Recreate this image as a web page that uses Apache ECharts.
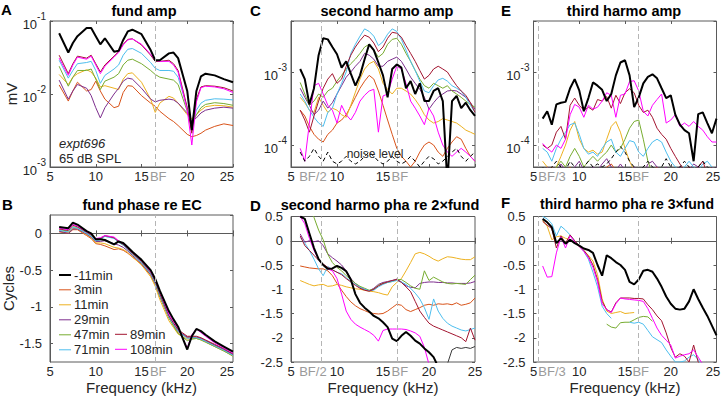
<!DOCTYPE html>
<html>
<head>
  <meta http-equiv="Content-Type" content="text/html; charset=utf-8"/>
  <title>expt696 harmonics</title>
  <script src="https://cdnjs.cloudflare.com/ajax/libs/echarts/6.0.0/echarts.min.js"></script>
</head>
<body style="margin:0;background:#fff">
<div id="main" style="width:724px;height:402px;"></div>
<script type="text/javascript">
// legend order: -11min is the reference, then the times after exposure
var timeNames = ['-11min','3min','11min','29min','47min','71min','89min','108min'];
var timeColors = ['#000000','#D95319','#EDB120','#7E2F8E','#77AC30','#4DBEEE','#A2142F','#FF00FF'];

// frequencies (kHz)
var freqFund = [6,7,7.5,8,9,9.5,10,10.5,11,12,12.5,13,13.5,14,15,16,16.5,17,18,18.5,19,20,20.5,21,21.5,22,23,24,25];
var freqHarm = [6,6.5,7,7.5,8,8.5,9,9.5,10,10.5,11,11.5,12,12.5,13,13.5,14,14.5,15,15.5,16,16.5,17,17.5,18,18.5,19,19.5,20,20.5,21,21.5,22,22.5,23,23.5,24,24.5,25];
var bestFreq = 16.5;

// A: fund amp (mV)
var fundAmp_m11 = [0.068,0.037,0.050,0.062,0.080,0.080,0.062,0.048,0.058,0.038,0.039,0.055,0.072,0.076,0.066,0.040,0.029,0.029,0.036,0.037,0.031,0.011,0.0032,0.011,0.0175,0.019,0.018,0.016,0.0145];
var fundAmp_t3 = [0.0133,0.008,0.011,0.0145,0.011,0.0115,0.015,0.011,0.0085,0.0065,0.0068,0.0105,0.013,0.0128,0.0095,0.0075,0.0068,0.0058,0.0046,0.0042,0.0037,0.0028,0.0026,0.0027,0.0029,0.0032,0.0036,0.0039,0.0037];
var fundAmp_t11 = [0.0185,0.0135,0.017,0.019,0.0215,0.020,0.0165,0.0125,0.013,0.012,0.0115,0.016,0.019,0.0195,0.0145,0.0085,0.0056,0.0075,0.0093,0.0088,0.0075,0.0052,0.0046,0.0052,0.006,0.0067,0.0070,0.0069,0.0066];
var fundAmp_t29 = [0.0155,0.0085,0.011,0.0135,0.012,0.0095,0.0065,0.0047,0.0065,0.010,0.012,0.015,0.0165,0.016,0.012,0.0085,0.0078,0.0082,0.0085,0.0083,0.0075,0.0055,0.0042,0.0047,0.0055,0.006,0.0064,0.0066,0.0064];
var fundAmp_t47 = [0.024,0.0128,0.017,0.021,0.021,0.022,0.016,0.0115,0.015,0.017,0.019,0.025,0.029,0.030,0.026,0.021,0.0185,0.017,0.016,0.0155,0.0135,0.0058,0.0038,0.0052,0.0065,0.0072,0.0076,0.0074,0.0070];
var fundAmp_t71 = [0.029,0.0165,0.021,0.026,0.027,0.028,0.021,0.014,0.018,0.022,0.025,0.034,0.041,0.042,0.036,0.027,0.0225,0.021,0.021,0.0205,0.017,0.0065,0.0036,0.006,0.0075,0.0082,0.0086,0.0085,0.0083];
var fundAmp_t89 = [0.034,0.019,0.026,0.033,0.031,0.034,0.026,0.020,0.025,0.033,0.038,0.048,0.056,0.057,0.047,0.034,0.028,0.028,0.029,0.026,0.021,0.0065,0.0029,0.0085,0.0125,0.013,0.0128,0.0122,0.011];
var fundAmp_t108 = [0.031,0.018,0.025,0.032,0.030,0.033,0.025,0.019,0.024,0.032,0.037,0.047,0.055,0.057,0.048,0.035,0.029,0.028,0.028,0.025,0.020,0.006,0.0020,0.0078,0.0122,0.0128,0.0125,0.0118,0.0105];

// B: fund phase re EC (cycles)
var fundPha_m11 = [0.086,0.07,0.145,0.12,0.03,0.0,-0.08,-0.08,-0.09,-0.15,-0.11,-0.13,-0.19,-0.25,-0.36,-0.50,-0.62,-0.78,-1.06,-1.17,-1.27,-1.58,-1.40,-1.30,-1.33,-1.38,-1.47,-1.54,-1.61];
var fundPha_t3 = [0.02,0.0,0.05,0.05,-0.03,-0.07,-0.14,-0.15,-0.17,-0.22,-0.21,-0.23,-0.27,-0.32,-0.42,-0.57,-0.69,-0.86,-1.15,-1.25,-1.34,-1.42,-1.42,-1.42,-1.44,-1.47,-1.53,-1.59,-1.66];
var fundPha_t11 = [0.03,0.01,0.07,0.06,-0.02,-0.06,-0.13,-0.13,-0.14,-0.19,-0.20,-0.22,-0.26,-0.32,-0.43,-0.59,-0.72,-0.90,-1.19,-1.28,-1.37,-1.44,-1.43,-1.43,-1.45,-1.48,-1.54,-1.60,-1.67];
var fundPha_t29 = [0.03,0.0,0.06,0.06,-0.01,-0.05,-0.11,-0.11,-0.10,-0.14,-0.16,-0.19,-0.24,-0.30,-0.41,-0.56,-0.68,-0.85,-1.14,-1.24,-1.33,-1.41,-1.41,-1.41,-1.43,-1.46,-1.52,-1.58,-1.65];
var fundPha_t47 = [0.05,0.03,0.09,0.08,0.01,-0.03,-0.09,-0.08,-0.04,-0.06,-0.12,-0.16,-0.22,-0.28,-0.39,-0.55,-0.67,-0.85,-1.15,-1.26,-1.36,-1.46,-1.44,-1.43,-1.45,-1.48,-1.54,-1.60,-1.67];
var fundPha_t71 = [0.04,0.02,0.08,0.07,0.0,-0.04,-0.10,-0.09,-0.04,-0.07,-0.12,-0.16,-0.22,-0.28,-0.40,-0.55,-0.67,-0.84,-1.14,-1.24,-1.33,-1.43,-1.42,-1.42,-1.44,-1.47,-1.53,-1.59,-1.66];
var fundPha_t89 = [0.06,0.04,0.11,0.09,0.02,-0.02,-0.08,-0.07,-0.03,-0.06,-0.11,-0.15,-0.21,-0.27,-0.38,-0.53,-0.65,-0.82,-1.12,-1.22,-1.31,-1.40,-1.40,-1.40,-1.42,-1.45,-1.51,-1.57,-1.64];
var fundPha_t108 = [0.07,0.05,0.12,0.10,0.02,-0.01,-0.07,-0.06,-0.03,-0.05,-0.10,-0.14,-0.20,-0.26,-0.37,-0.52,-0.63,-0.79,-1.10,-1.20,-1.29,-1.56,-1.38,-1.30,-1.35,-1.40,-1.49,-1.56,-1.63];

// C: second harmonic amp (mV)
var h2Amp_m11 = [1.1e-3,8e-4,3.6e-4,6e-4,1.7e-3,2.9e-3,2.8e-3,2.2e-3,1.75e-3,1.15e-3,1.4e-3,9.5e-4,6.5e-4,9e-4,1.5e-3,2.4e-3,2.0e-3,1.35e-3,9e-4,4.5e-4,1.1e-3,1.27e-3,1.15e-3,6e-4,7.5e-4,5e-4,7e-4,4e-4,4e-4,5.5e-4,6e-4,4e-4,3e-5,4e-4,4.7e-4,3.2e-4,3.8e-4,3e-4,2.5e-4];
var h2Amp_t3 = [3e-4,2.5e-4,1.8e-4,1.4e-4,1.2e-4,1.1e-4,1.4e-4,1.6e-4,2e-4,2.2e-4,2.6e-4,3.4e-4,4.5e-4,6e-4,7.5e-4,9e-4,8e-4,5.5e-4,3.5e-4,2.2e-4,1.4e-4,9e-5,7e-5,6e-5,5e-5,6e-5,8e-5,1e-4,1.1e-4,1e-4,8e-5,7e-5,9e-5,1.1e-4,1.3e-4,1.2e-4,9e-5,7e-5,6e-5];
var h2Amp_t11 = [4.5e-4,3.8e-4,3e-4,2.8e-4,4.5e-4,3.5e-4,2.8e-4,3.2e-4,3e-4,2.6e-4,2.4e-4,3.5e-4,5.3e-4,8e-4,1.1e-3,1.3e-3,1.4e-3,1.1e-3,7e-4,5.8e-4,5e-4,6e-4,6e-4,5.5e-4,5e-4,4.2e-4,3.4e-4,2.6e-4,2.2e-4,2e-4,2.1e-4,2.3e-4,2.2e-4,2.1e-4,2e-4,1.8e-4,1.6e-4,1.5e-4,1.4e-4];
var h2Amp_t29 = [6e-4,4.5e-4,3.5e-4,2.6e-4,3e-4,4e-4,3.2e-4,3.8e-4,5e-4,6.5e-4,8.5e-4,1e-3,1.2e-3,1.4e-3,1.8e-3,1.7e-3,1.5e-3,1.2e-3,1.2e-3,1.4e-3,1.5e-3,1.6e-3,1.4e-3,1.1e-3,8.5e-4,7e-4,5.8e-4,4.5e-4,3.1e-4,3.8e-4,4.5e-4,5e-4,5.5e-4,5.6e-4,5.5e-4,5e-4,4.5e-4,3.8e-4,3.1e-4];
var h2Amp_t47 = [7.2e-4,5e-4,3.5e-4,4e-4,5e-4,4.5e-4,5.5e-4,6e-4,7.5e-4,9e-4,1.1e-3,1.3e-3,1.5e-3,1.8e-3,2.2e-3,2.4e-3,2e-3,1.6e-3,1.8e-3,2.4e-3,2.8e-3,2.9e-3,2.4e-3,1.8e-3,1.4e-3,1.05e-3,8e-4,6.5e-4,6e-4,7e-4,6.5e-4,6e-4,6.5e-4,5.5e-4,5e-4,4.5e-4,4e-4,3.6e-4,3.3e-4];
var h2Amp_t71 = [5e-4,4e-4,3e-4,2.4e-4,2e-4,1.8e-4,2.8e-4,3.2e-4,5e-4,7e-4,1e-3,1.8e-3,2.4e-3,3.1e-3,3.9e-3,3.6e-3,3.1e-3,2.3e-3,2.6e-3,3.3e-3,3.9e-3,3.6e-3,2.8e-3,2e-3,1.4e-3,1.05e-3,7.5e-4,5.5e-4,5.2e-4,6.5e-4,7.8e-4,8.2e-4,7.5e-4,6.5e-4,6e-4,5.5e-4,4.5e-4,3.5e-4,2.8e-4];
var h2Amp_t89 = [3e-4,2.2e-4,1.5e-4,2.5e-4,4e-4,6e-4,8e-4,9.5e-4,7e-4,8e-4,1.2e-3,1.7e-3,2.2e-3,2.7e-3,3.2e-3,3e-3,2.5e-3,1.9e-3,2.2e-3,2.9e-3,3.5e-3,3.4e-3,3e-3,2.3e-3,1.8e-3,1.4e-3,1.05e-3,8e-4,9e-4,1.1e-3,1.2e-3,1.1e-3,1e-3,8e-4,6.5e-4,5.5e-4,4.8e-4,3.8e-4,2.8e-4];
var h2Amp_t108 = [9e-5,6e-5,2e-4,6.5e-4,7e-4,5e-4,3.5e-4,3e-4,2e-4,3.5e-4,2.6e-4,2.2e-4,2.8e-4,4e-4,4.8e-4,5.5e-4,5.8e-4,1.5e-4,4.7e-4,5e-4,8e-4,1.2e-3,1.1e-3,7e-4,4e-4,3.2e-4,2.5e-4,1.9e-4,3.2e-4,2.5e-4,1.5e-4,1e-4,8e-5,7e-5,8e-5,9e-5,8e-5,7e-5,6e-5];
var h2Noise = [8e-5,6e-5,7e-5,9e-5,7e-5,6e-5,8e-5,6e-5,5.5e-5,6e-5,7e-5,6e-5,5.5e-5,6e-5,7e-5,8e-5,7e-5,6e-5,5.5e-5,6e-5,7e-5,6e-5,5.5e-5,6e-5,7e-5,6e-5,5e-5,6e-5,7e-5,6.5e-5,5.5e-5,6e-5,7e-5,8e-5,9e-5,7e-5,6e-5,7e-5,8e-5];

// D: second harmonic phase re 2x fund (cycles)
var h2Pha_m11 = [0.5,0.45,0.15,-0.15,-0.38,-0.5,-0.58,-0.57,-0.52,-0.56,-0.63,-0.8,-1.1,-1.28,-1.38,-1.46,-1.55,-1.6,-1.68,-1.78,-2.02,-2.07,-1.96,-1.88,-1.96,-2.06,-2.12,-2.22,-2.3,-2.4,-2.6,-2.9];
var h2Pha_t3 = [-0.52,-0.54,-0.56,-0.57,-0.58,-0.58,-0.62,-0.72,-0.88,-1.02,-1.15,-1.26,-1.34,-1.4,-1.44,-1.48,-1.5,-1.51,-1.5,-1.45,-1.38,-1.31,-1.33,-1.42,-1.46,-1.42,-1.38,-1.33,-1.31,-1.33,-1.3,-1.31,-1.3,-1.32,-1.28,-1.33,-1.31,-1.28,-1.18];
var h2Pha_t11 = [-0.82,-0.86,-0.9,-0.93,-0.91,-0.9,-0.94,-0.93,-0.9,-0.92,-0.95,-0.97,-0.99,-1.0,-1.02,-1.04,-1.05,-1.07,-1.1,-1.12,-0.95,-0.86,-0.78,-0.62,-0.45,-0.27,-0.24,-0.27,-0.32,-0.38,-0.42,-0.37,-0.33,-0.34,-0.36,-0.38,-0.39,-0.39,-0.33];
var h2Pha_t29 = [0.14,-0.03,0.0,-0.02,0.0,-0.1,-0.27,-0.35,-0.42,-0.5,-0.62,-0.78,-0.88,-0.96,-1.0,-1.03,-0.98,-0.9,-0.86,-0.84,-0.82,-0.79,-0.85,-0.93,-0.96,-0.97,-0.88,-0.86,-0.85,-0.85,-0.86,-0.86,-0.87,-0.87,-0.88,-0.88,-0.88,-0.87,-0.84];
var h2Pha_t47 = [0.8,0.75,0.7,0.48,0.22,0.02,-0.28,-0.45,-0.55,-0.62,-0.72,-0.8,-0.88,-0.94,-0.98,-1.02,-1.0,-0.92,-0.88,-0.86,-0.84,-0.8,-0.8,-0.86,-0.93,-0.98,-1.0,-0.62,-0.82,-0.75,-0.8,-0.85,-0.88,-0.89,-0.88,-0.89,-0.9,-0.8,-0.71];
var h2Pha_t71 = [0.07,-0.05,-0.2,-0.38,-0.58,-0.72,-0.53,-0.6,-0.65,-0.68,-0.76,-0.84,-0.9,-0.96,-1.0,-1.03,-1.02,-0.95,-0.9,-0.86,-0.84,-0.82,-0.85,-0.9,-0.98,-1.08,-1.2,-1.38,-1.62,-1.2,-1.45,-1.6,-1.7,-1.76,-1.8,-1.84,-1.86,-1.83,-1.8];
var h2Pha_t89 = [0.1,-0.1,-0.2,-0.3,-0.4,-0.48,-0.55,-0.6,-0.65,-0.7,-0.78,-0.85,-0.92,-0.98,-1.02,-1.04,-1.0,-0.93,-0.88,-0.85,-0.82,-0.8,-0.86,-0.95,-1.05,-1.25,-1.45,-1.58,-1.7,-1.76,-1.8,-1.84,-1.88,-1.92,-1.96,-2.0,-2.08,-1.8,-2.05];
var h2Pha_t108 = [0.5,0.35,0.05,-0.2,-0.38,-0.5,-0.58,-0.62,-0.78,-1.1,-1.45,-1.62,-1.72,-1.78,-1.83,-1.88,-1.95,-2.07,-1.85,-1.82,-1.82,-1.82,-1.82,-1.83,-1.86,-1.9,-1.97,-2.2,-2.55,-2.9];
var h2TailFreq = [21.9,22.5,23,23.5,24,24.5,25];
var h2Tail = [-2.6,-2.25,-2.2,-2.22,-2.2,-2.22,-2.18];

// E: third harmonic amp (mV)
var h3Amp_m11 = [2.3e-4,2.9e-4,1.9e-4,3.6e-4,3.8e-4,3.9e-4,6e-4,8e-4,5.6e-4,2.9e-4,4.4e-4,7.2e-4,6.5e-4,5.7e-4,4e-4,5e-4,9e-4,1.35e-3,1.45e-3,9e-4,3.3e-4,4.5e-4,7e-4,8.6e-4,9.3e-4,8.2e-4,6e-4,4.4e-4,4.8e-4,2.6e-4,1.9e-4,1.6e-4,1.45e-4,6e-5,2.65e-4,2.8e-4,2e-4,1.45e-4,2.3e-4];
var h3Amp_t3 = [3.5e-5,4e-5,5e-5,4e-5,3.5e-5,4.5e-5,5e-5,4e-5,3.5e-5,4e-5,4.5e-5,4e-5,3.5e-5,4e-5,5e-5,5.5e-5,4.5e-5,4e-5,3.5e-5,4e-5,4.5e-5,4e-5,3.5e-5,4e-5,4.5e-5,5e-5,4e-5,3.5e-5,4e-5,4.5e-5,4e-5,3.5e-5,4e-5,4.5e-5,4e-5,3.5e-5,4e-5,4.5e-5,4e-5];
var h3Amp_t11 = [6e-5,5e-5,4e-5,5e-5,7e-5,1e-4,1.6e-4,2.1e-4,1.2e-4,9e-5,8e-5,8.5e-5,7.5e-5,8e-5,1.2e-4,1.8e-4,2.1e-4,1.5e-4,9e-5,6e-5,4.5e-5,3.5e-5];
var h3Amp_t29 = [4e-5,5e-5,4.5e-5,4e-5,5.5e-5,4.5e-5,4e-5,5e-5,6e-5,4.5e-5,4e-5,5e-5,4.5e-5,5.5e-5,6.5e-5,5e-5,4.5e-5,5.5e-5,4.5e-5,4e-5,5e-5,4.5e-5,4e-5,5.5e-5,6e-5,5e-5,4.5e-5,5e-5,4e-5,4.5e-5,5e-5,4e-5,4.5e-5,5.5e-5,5e-5,4.5e-5,4e-5,4.5e-5,5e-5];
var h3Amp_t47 = [4e-5,4.5e-5,4e-5,5e-5,6e-5,5e-5,7e-5,9e-5,7e-5,5e-5,6e-5,7e-5,6e-5,7e-5,8e-5,1e-4,8e-5,9e-5,1.2e-4,1.7e-4,2.1e-4,2.2e-4,1.2e-4,6e-5,4e-5];
var h3Amp_t71 = [9e-5,8e-5,6e-5,9e-5,1.2e-4,1.5e-4,1.9e-4,2e-4,1.4e-4,9e-5,7.5e-5,8e-5,7e-5,9e-5,1.1e-4,1.2e-4,8e-5,7e-5,9e-5,1.15e-4,1.1e-4,8e-5,7e-5,9e-5,1.1e-4,1.2e-4,1.1e-4,8e-5,6e-5,5e-5,4.5e-5,5e-5,6e-5,5e-5,4.5e-5,5.5e-5,6e-5,5e-5,4.5e-5];
var h3Amp_t89 = [1e-4,9e-5,1e-4,1.5e-4,1.8e-4,1.2e-4,3.5e-4,4.4e-4,3.5e-4,3e-4,3.3e-4,3e-4,4.2e-4,4e-4,4.6e-4,3.2e-4,4.8e-4,3.7e-4,5.2e-4,5.9e-4,5.2e-4,3.5e-4,2.8e-4,3e-4,2.4e-4,1.7e-4,1.4e-4,1.2e-4,9e-5,7e-5,5.5e-5,4.5e-5,5e-5,4e-5,5e-5,6e-5,4e-5,5e-5,4e-5];
var h3Amp_t108 = [1.05e-4,9e-5,8e-5,1e-4,9e-5,1.2e-4,2.6e-4,3.6e-4,3.3e-4,2.4e-4,3.5e-4,3.1e-4,3.3e-4,4e-4,5.2e-4,4.8e-4,2.4e-4,4.8e-4,5e-4,7.4e-4,7.6e-4,5.5e-4,2.9e-4,2.5e-4,3.5e-4,4.2e-4,5e-4,2e-4,2.2e-4,2.6e-4,1.8e-4,2e-4,1.8e-4,2.1e-4,1.8e-4,1.6e-4,1.3e-4,1.1e-4,1.1e-4];
var h3Noise = [5e-5,4e-5,5e-5,6e-5,5e-5,4.5e-5,6e-5,5e-5,4.5e-5,5e-5,6e-5,5e-5,5.5e-5,5e-5,5.5e-5,6.5e-5,8e-5,9.5e-5,8e-5,6e-5,5e-5,4.5e-5,5e-5,6e-5,5e-5,4.5e-5,5e-5,6.5e-5,5e-5,4.5e-5,5e-5,6e-5,5e-5,4.5e-5,5e-5,6e-5,5e-5,4.5e-5,5e-5];

// F: third harmonic phase re 3x fund (cycles); 3min and 29min not shown
var h3Pha_m11 = [0.45,0.38,0.28,-0.05,0.05,-0.06,0.02,-0.05,-0.1,-0.16,-0.19,-0.25,-0.5,-0.72,-0.3,-0.36,-0.44,-0.5,-0.6,-0.85,-0.9,-0.8,-0.62,-0.6,-0.64,-0.78,-0.95,-1.15,-1.3,-1.4,-1.42,-1.4,-1.25,-1.0,-1.2,-1.38,-1.55,-1.75,-1.95];
var h3Pha_t11 = [0.42,0.3,0.02,0.08,0.1,0.05,0.02,-0.03,-0.12,-0.2,-0.3,-0.42,-0.7,-1.2,-1.45,-1.5,-1.48,-1.46,-1.5,-1.49,-1.48];
var h3Pha_t47 = [null,null,null,null,null,null,null,null,null,null,null,null,null,null,-1.72,-1.78,-1.8,-1.69,-1.68,-1.68,-1.63,-1.58,-1.56,-1.57,-1.66];
var h3Pha_t71 = [0.5,0.45,0.35,0.1,0.3,0.22,0.12,0.0,-0.1,-0.22,-0.38,-0.65,-0.95,-1.35,-1.5,-1.6,null,null,null,-1.68,-1.7,-1.68,-1.72,-1.85,-1.98,-2.04,-2.1,-2.25,-2.38,-2.5,-2.5,-2.48,-2.4,-2.35,-2.45,-2.6];
var h3Pha_t89 = [0.4,0.32,0.25,-0.15,0.1,-0.05,0.12,0.0,-0.1,-0.2,-0.32,-0.5,-0.8,-1.25,-1.42,-1.47,-1.28,-1.18,-1.18,-1.18,-1.19,-1.19,-1.2,-1.32,-1.42,-1.55,-1.65,-1.9,-2.2,-2.4,-2.33,-2.38,-2.5,-2.15,-2.5,-2.6];
var h3Pha_t108 = [-0.52,-0.75,-0.74,-0.25,0.08,-0.15,0.1,-0.02,-0.12,-0.22,-0.35,-0.55,-0.85,-1.3,-1.42,-1.48,-1.3,-1.18,-1.2,-1.21,-1.22,-1.23,-1.25,-1.4,-1.6,-1.8,-1.95,-2.05,-2.15,-2.42,-2.38,-2.35,-2.33,-2.25,-2.4,-2.55,-2.7];

var panelTitles = ['fund amp','fund phase re EC','second harmo amp','second harmo pha re 2\u00d7fund','third harmo amp','third harmo pha re 3\u00d7fund'];

var ink = '#262626';
var boxCol = '#5a5a5a';
var font = "'Liberation Sans', Arial, Helvetica, sans-serif";

// panel order: 0 A, 1 B, 2 C, 3 D, 4 E, 5 F
var grids = [
  {left: 50, top: 21, width: 183, height: 146},
  {left: 50, top: 215, width: 183, height: 147},
  {left: 291, top: 21, width: 184, height: 146},
  {left: 291, top: 216.5, width: 184, height: 145.5},
  {left: 533.5, top: 21, width: 183, height: 146},
  {left: 533.5, top: 216.5, width: 183, height: 145.5}
];
grids.forEach(function(g){
  g.show = true; g.borderColor = boxCol; g.borderWidth = 1;
  g.backgroundColor = 'transparent'; g.containLabel = false; g.outerBoundsMode = 'none';
});

function logLabel(v){
  var e = Math.round(Math.log(v) / Math.LN10);
  if (Math.abs(Math.log(v) / Math.LN10 - e) > 1e-6) return '';
  return '{b|10}{s|' + e + '}';
}
var logRich = {
  b: {fontSize: 13, color: ink, fontFamily: font, verticalAlign: 'bottom', lineHeight: 19},
  s: {fontSize: 10, color: ink, fontFamily: font, verticalAlign: 'top'}
};
function halfLabel(v){
  if (Math.abs(v * 2 - Math.round(v * 2)) > 1e-6) return '';
  return String(Math.round(v * 2) / 2);
}

// x labels: "25" sits slightly left of its tick in some panels
function xFormatter(idx){
  return function(v){
    if (idx === 2 && v > 15) return '';
    if ((idx === 0 || idx === 1) && v === 25) return '{p|25}';
    if ((idx === 4 || idx === 5) && v === 25) return '{q|25}';
    return String(v);
  };
}
var xRich = {
  p: {fontSize: 13, color: ink, fontFamily: font, padding: [0, 12, 0, 0]},
  q: {fontSize: 13, color: ink, fontFamily: font, padding: [0, 7, 0, 0]}
};

var tickStyle = {show: true, inside: true, length: 3, lineStyle: {color: boxCol}};
var xAxes = [], yAxes = [];
for (var i = 0; i < 6; i++) {
  var bottomRow = (i % 2 === 1);
  xAxes.push({
    gridIndex: i, type: 'value', min: 5, max: 25, interval: 5,
    axisLine: {show: true, lineStyle: {color: boxCol, width: 1}},
    axisTick: tickStyle,
    splitLine: {show: false},
    axisLabel: {fontSize: 13, color: ink, fontFamily: font, margin: 3, formatter: xFormatter(i), rich: xRich},
    name: bottomRow ? 'Frequency (kHz)' : '',
    nameLocation: 'middle', nameGap: 18,
    nameTextStyle: {fontSize: 15, color: ink, fontFamily: font}
  });
}
function yCommon(o){
  o.axisLine = {show: true, lineStyle: {color: boxCol, width: 1}};
  o.axisTick = tickStyle;
  o.splitLine = {show: false};
  o.nameLocation = 'middle';
  o.nameGap = 29;
  o.nameTextStyle = {fontSize: 15, color: ink, fontFamily: font};
  return o;
}
yAxes.push(yCommon({gridIndex: 0, type: 'log', logBase: 10, min: 1e-3, max: 1e-1, name: 'mV',
  axisLabel: {formatter: logLabel, rich: logRich, margin: 4, fontSize: 13, color: ink}}));
yAxes.push(yCommon({gridIndex: 1, type: 'value', min: -1.75, max: 0.25, name: 'Cycles',
  axisLabel: {formatter: halfLabel, margin: 8, fontSize: 13, lineHeight: 13, color: ink, fontFamily: font, showMinLabel: false, showMaxLabel: false}}));
yAxes.push(yCommon({gridIndex: 2, type: 'log', logBase: 10, min: 5e-5, max: 5e-3,
  axisLabel: {formatter: logLabel, rich: logRich, margin: 4, fontSize: 13, color: ink}}));
yAxes.push(yCommon({gridIndex: 3, type: 'value', min: -2.5, max: 0.5, interval: 0.5,
  axisLabel: {formatter: halfLabel, margin: 8, fontSize: 13, lineHeight: 13, color: ink, fontFamily: font}}));
yAxes.push(yCommon({gridIndex: 4, type: 'log', logBase: 10, min: 5e-5, max: 5e-3,
  axisLabel: {formatter: logLabel, rich: logRich, margin: 4, fontSize: 13, color: ink}}));
yAxes.push(yCommon({gridIndex: 5, type: 'value', min: -2.5, max: 0.5, interval: 0.5,
  axisLabel: {formatter: halfLabel, margin: 8, fontSize: 13, lineHeight: 13, color: ink, fontFamily: font}}));

// mirrored ticks on the top and right edges of every box
for (var m = 0; m < 6; m++) {
  var tx = {gridIndex: m, position: 'top', type: 'value', min: 5, max: 25, interval: 5,
    axisLine: {show: false}, axisTick: tickStyle, axisLabel: {show: false}, splitLine: {show: false}};
  xAxes.push(tx);
  var src = yAxes[m];
  var ty = {gridIndex: m, position: 'right', type: src.type, min: src.min, max: src.max,
    axisLine: {show: false}, axisTick: tickStyle, axisLabel: {show: false}, splitLine: {show: false}};
  if (src.interval) ty.interval = src.interval;
  if (src.type === 'log') ty.logBase = 10;
  yAxes.push(ty);
}

function mkLine(name, color, width, idx, xs, ys, dash){
  var pts = [];
  for (var k = 0; k < xs.length; k++) {
    var y = (ys[k] === undefined) ? null : ys[k];
    pts.push([xs[k], y]);
  }
  return {
    type: 'line', name: name, xAxisIndex: idx, yAxisIndex: idx, data: pts,
    symbol: 'none', showSymbol: false, connectNulls: false, clip: true, silent: true,
    animation: false, emphasis: {disabled: true},
    lineStyle: {color: color, width: width, type: dash || 'solid'},
    itemStyle: {color: color}
  };
}

var bfTicks = [[bestFreq], [bestFreq], [bestFreq / 2, bestFreq], [bestFreq / 2, bestFreq], [bestFreq / 3, bestFreq], [bestFreq / 3, bestFreq]];
var bfNames = [['BF'], ['BF'], ['BF/2', 'BF'], ['BF/2', 'BF'], ['BF/3', 'BF'], ['BF/3', 'BF']];
var bfNudge = [[3], [3], [-8, 3], [-8, 3], [14, 2], [14, 2]];

var panelData = [
  [freqFund, [fundAmp_m11, fundAmp_t3, fundAmp_t11, fundAmp_t29, fundAmp_t47, fundAmp_t71, fundAmp_t89, fundAmp_t108]],
  [freqFund, [fundPha_m11, fundPha_t3, fundPha_t11, fundPha_t29, fundPha_t47, fundPha_t71, fundPha_t89, fundPha_t108]],
  [freqHarm, [h2Amp_m11, h2Amp_t3, h2Amp_t11, h2Amp_t29, h2Amp_t47, h2Amp_t71, h2Amp_t89, h2Amp_t108]],
  [freqHarm, [h2Pha_m11, h2Pha_t3, h2Pha_t11, h2Pha_t29, h2Pha_t47, h2Pha_t71, h2Pha_t89, h2Pha_t108]],
  [freqHarm, [h3Amp_m11, h3Amp_t3, h3Amp_t11, h3Amp_t29, h3Amp_t47, h3Amp_t71, h3Amp_t89, h3Amp_t108]],
  [freqHarm, [h3Pha_m11, null, h3Pha_t11, null, h3Pha_t47, h3Pha_t71, h3Pha_t89, h3Pha_t108]]
];

var series = [];
panelData.forEach(function(pd, idx){
  var xs = pd[0], lists = pd[1];
  for (var k = 1; k < lists.length; k++) {
    if (lists[k]) series.push(mkLine(timeNames[k], timeColors[k], 1, idx, xs, lists[k]));
  }
  if (idx === 2) series.push(mkLine('noise level', '#000', 1, idx, xs, h2Noise, [4, 3]));
  if (idx === 4) series.push(mkLine('noise level', '#000', 1, idx, xs, h3Noise, [4, 3]));
  if (idx === 3) series.push(mkLine('late', '#3a3a3a', 1, idx, h2TailFreq, h2Tail));
  var blk = mkLine(timeNames[0], timeColors[0], 2, idx, xs, lists[0]);
  blk.markLine = {
    silent: true, animation: false, symbol: ['none', 'none'],
    label: {show: false},
    lineStyle: {color: '#b5b5b5', type: [5, 3], width: 1},
    data: bfTicks[idx].map(function(v){ return {xAxis: v}; })
  };
  series.push(blk);
});

var titleCenters = [144, 142, 387, 380, 624, 627];
var titleTops = [3, 197, 3, 197, 3, 197];
var titleSizes = [14.5, 14.5, 14.5, 14.5, 14.5, 14];
var titles = panelTitles.map(function(t, k){
  return {text: t, left: titleCenters[k], top: titleTops[k], textAlign: 'center', padding: 0,
    textStyle: {fontSize: titleSizes[k], fontWeight: 'bold', color: '#000', fontFamily: font}};
});

var legendText = {fontSize: 13, color: ink, fontFamily: font, lineHeight: 15, padding: [0, 0, 0, -2]};
function legendBox(names, left, top, h){
  return {data: names, orient: 'vertical', left: left, top: top, padding: 0, icon: 'rect',
    itemWidth: 12, itemHeight: h, itemGap: 0, selectedMode: false, textStyle: legendText};
}
var option = {
  animation: false,
  textStyle: {fontFamily: font},
  title: titles,
  grid: grids,
  xAxis: xAxes,
  yAxis: yAxes,
  legend: [
    legendBox(timeNames.slice(0, 1), 59, 267.5, 2),
    legendBox(timeNames.slice(1, 6), 59, 282.3, 1),
    legendBox(timeNames.slice(6), 115, 326.8, 1)
  ],
  series: series
};

var chart = echarts.init(document.getElementById('main'), null, {renderer: 'svg'});
chart.setOption(option);

// tick labels at BF, BF/2, BF/3 and panel annotations
var gfx = [];
function addText(x, y, s, st){
  var style = {text: s, x: x, y: y, fill: st.fill || '#000', font: st.font,
    textAlign: st.align || 'left', textVerticalAlign: st.valign || 'middle',
    align: st.align || 'left', verticalAlign: st.valign || 'middle'};
  gfx.push({type: 'text', silent: true, z: 100, style: style});
}
for (var p = 0; p < 6; p++) {
  var g = grids[p];
  var yBottom = g.top + g.height + 3;
  for (var j = 0; j < bfTicks[p].length; j++) {
    var px = chart.convertToPixel({xAxisIndex: p}, bfTicks[p][j]);
    addText(px + bfNudge[p][j], yBottom, bfNames[p][j], {fill: '#9a9a9a', font: '13px ' + font, align: 'center', valign: 'top'});
  }
}
var letters = [['A', 1, 9.5], ['B', 2, 204], ['C', 250, 10], ['D', 250, 205], ['E', 501, 10], ['F', 501, 202]];
letters.forEach(function(l){
  addText(l[1], l[2], l[0], {font: 'bold 15px ' + font});
});
addText(59, 143, 'expt696', {fill: ink, font: 'italic 13px ' + font});
addText(59, 158, '65 dB SPL', {fill: ink, font: '13px ' + font});
addText(375, 154, 'noise level', {fill: ink, font: '12px ' + font, align: 'center'});
chart.setOption({graphic: gfx});
</script>
</body>
</html>
